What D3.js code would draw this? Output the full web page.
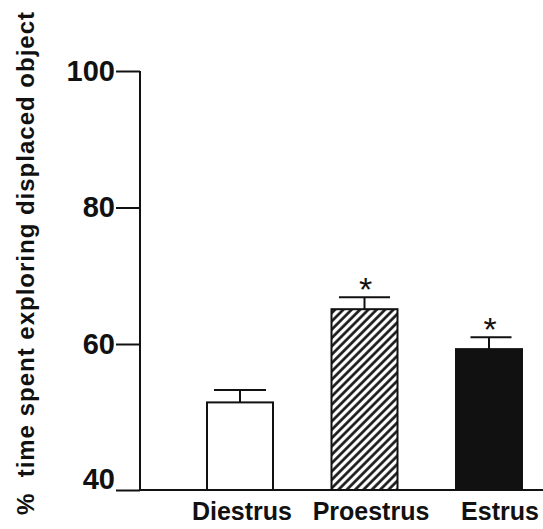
<!DOCTYPE html>
<html><head><meta charset="utf-8">
<script src="https://cdn.jsdelivr.net/npm/d3@7"></script>
<style>
html,body{margin:0;padding:0;background:#fff;}
svg{display:block;font-family:"Liberation Sans",Arial,sans-serif;}
</style></head>
<body>
<svg id="chart" width="543" height="529"></svg>
<script>
// ---- data ----
const categories = ["Diestrus", "Proestrus", "Estrus"];
const means = [52.0, 65.1, 59.3];
const sems = [1.7, 1.75, 1.7];
const significant = [false, true, true];
const yTicks = [40, 60, 80, 100];
const yTitle = "% \u00A0time spent exploring displaced object";

// ---- styles ----
const style = {
  ink: "#111",
  fills: ["#fff", "url(#hatch)", "#111"],
  barWidth: 66,
  capWidths: [52, 51, 41],
  stroke: 2
};

const svg = d3.select("#chart");
const defs = svg.append("defs");
const pat = defs.append("pattern")
  .attr("id", "hatch").attr("patternUnits", "userSpaceOnUse")
  .attr("width", 5.9).attr("height", 10)
  .attr("patternTransform", "rotate(45)");
pat.append("rect").attr("width", 5.9).attr("height", 10).attr("fill", "#fff");
pat.append("line").attr("x1", 1.5).attr("x2", 1.5).attr("y1", 0).attr("y2", 10)
  .attr("stroke", style.ink).attr("stroke-width", 2.6);

// scales
const y = d3.scaleLinear().domain([40, 60, 100]).range([490, 344, 71]);
const x = d3.scalePoint().domain(categories).range([240, 489]);
const xLabel = d3.scalePoint().domain(categories).range([242, 500]);

// bars
const g = svg.append("g");
g.selectAll("rect.bar").data(categories).join("rect")
  .attr("class", "bar")
  .attr("x", d => x(d) - style.barWidth / 2)
  .attr("width", style.barWidth)
  .attr("y", (d, i) => y(means[i]))
  .attr("height", (d, i) => y(40) - y(means[i]))
  .attr("fill", (d, i) => style.fills[i])
  .attr("stroke", style.ink).attr("stroke-width", style.stroke);

// error bars
g.selectAll("line.err").data(categories).join("line")
  .attr("class", "err")
  .attr("x1", d => x(d)).attr("x2", d => x(d))
  .attr("y1", (d, i) => y(means[i]))
  .attr("y2", (d, i) => y(means[i] + sems[i]))
  .attr("stroke", style.ink).attr("stroke-width", style.stroke);
g.selectAll("line.cap").data(categories).join("line")
  .attr("class", "cap")
  .attr("x1", (d, i) => x(d) - style.capWidths[i] / 2 + (i === 2 ? 2 : 0))
  .attr("x2", (d, i) => x(d) + style.capWidths[i] / 2 + (i === 2 ? 2 : 0))
  .attr("y1", (d, i) => y(means[i] + sems[i]))
  .attr("y2", (d, i) => y(means[i] + sems[i]))
  .attr("stroke", style.ink).attr("stroke-width", style.stroke);

// significance asterisks
g.selectAll("text.sig").data(categories.filter((d, i) => significant[i])).join("text")
  .attr("class", "sig")
  .attr("x", d => x(d) + 1)
  .attr("y", d => { const i = categories.indexOf(d); return y(means[i] + sems[i]) + 4; })
  .attr("text-anchor", "middle")
  .attr("font-size", 34).attr("fill", style.ink)
  .text("*");

// y axis
const yAxis = d3.axisLeft(y).tickValues(yTicks).tickSize(24).tickPadding(1);
const ya = svg.append("g").attr("transform", "translate(140,0)").call(yAxis);
ya.select(".domain").attr("stroke", style.ink).attr("stroke-width", style.stroke)
  .attr("d", `M0,${y(100)}V${y(40)}`);
ya.selectAll(".tick line").attr("stroke", style.ink).attr("stroke-width", style.stroke);
ya.selectAll(".tick text").attr("font-size", 29).attr("font-weight", "bold")
  .attr("fill", style.ink).attr("font-family", "Liberation Sans, Arial, sans-serif")
  .attr("dy", d => d === 40 ? "-0.05em" : "0.32em");

// x axis baseline
svg.append("line")
  .attr("x1", 140).attr("x2", 543)
  .attr("y1", y(40)).attr("y2", y(40))
  .attr("stroke", style.ink).attr("stroke-width", style.stroke);

// x labels
svg.selectAll("text.xl").data(categories).join("text")
  .attr("class", "xl")
  .attr("x", d => xLabel(d)).attr("y", 520)
  .attr("text-anchor", "middle")
  .attr("font-size", 25).attr("font-weight", "bold").attr("fill", style.ink)
  .text(d => d);

// y title
svg.append("text")
  .attr("transform", "translate(34,515) rotate(-90)")
  .attr("text-anchor", "start")
  .attr("font-size", 24).attr("font-weight", "bold").attr("fill", style.ink)
  .attr("textLength", 503).attr("lengthAdjust", "spacing")
  .text(yTitle);
</script>
</body></html>
